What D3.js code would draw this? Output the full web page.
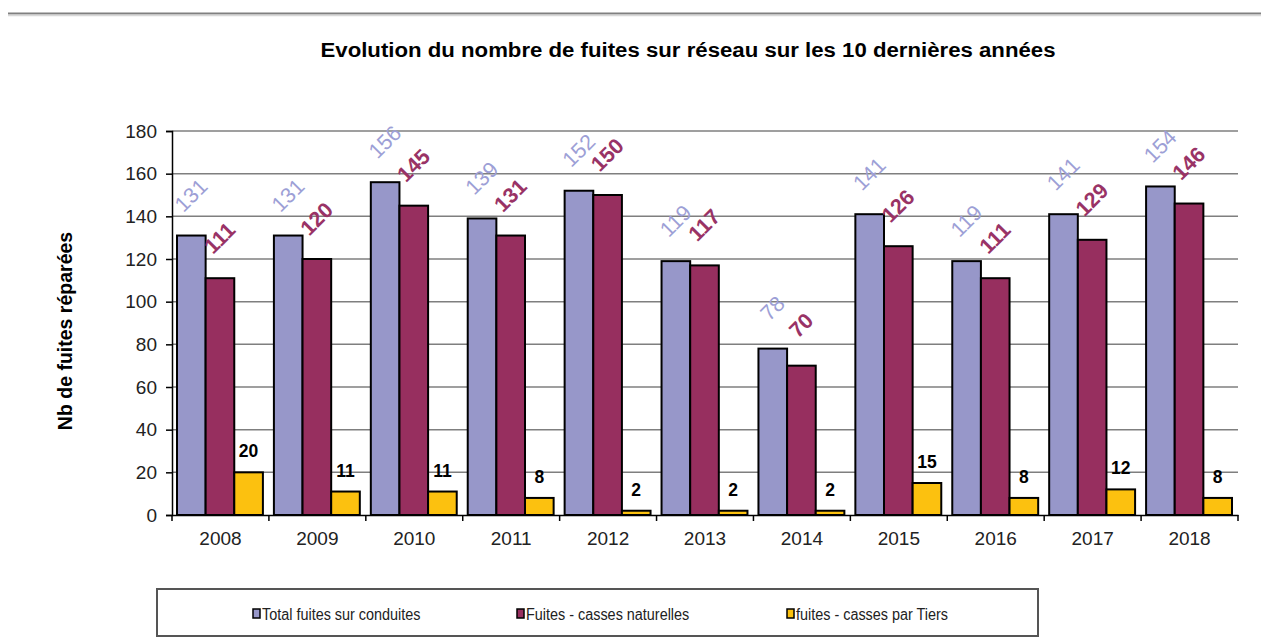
<!DOCTYPE html>
<html>
<head>
<meta charset="utf-8">
<script src="https://cdn.jsdelivr.net/npm/d3@7"></script>
<style>
  body { margin: 0; background: #fff; }
  svg { display: block; font-family: Arial, "Liberation Sans", sans-serif; }
</style>
</head>
<body>
<svg id="chart" width="1261" height="639"></svg>
<script>
const years = ['2008', '2009', '2010', '2011', '2012', '2013', '2014', '2015', '2016', '2017', '2018']
const totalFuites = [131, 131, 156, 139, 152, 119, 78, 141, 119, 141, 154]
const cassesNaturelles = [111, 120, 145, 131, 150, 117, 70, 126, 111, 129, 146]
const cassesTiers = [20, 11, 11, 8, 2, 2, 2, 15, 8, 12, 8]
const seriesNames = ['Total fuites sur conduites', 'Fuites - casses naturelles', 'fuites - casses par Tiers']
const yTicks = [0, 20, 40, 60, 80, 100, 120, 140, 160, 180]

const colors = ['#9797c9', '#972f5f', '#fcc10f']
const labelColors = ['#9d9fd6', '#993366', '#000']

const svg = d3.select('#chart')
const plotLeft = 172, plotRight = 1238, plotTop = 131, plotBottom = 515

// top separator line
svg.append('line').attr('x1', 8).attr('x2', 1261).attr('y1', 13.5).attr('y2', 13.5)
    .attr('stroke', '#808080').attr('stroke-width', 2)
svg.append('line').attr('x1', 8).attr('x2', 1261).attr('y1', 15.5).attr('y2', 15.5)
    .attr('stroke', '#d8d8d8').attr('stroke-width', 1.5)

svg.append('text')
    .attr('x', 688).attr('y', 57)
    .attr('text-anchor', 'middle')
    .attr('font-size', 20).attr('font-weight', 'bold')
    .attr('textLength', 735).attr('lengthAdjust', 'spacingAndGlyphs')
    .text('Evolution du nombre de fuites sur réseau sur les 10 dernières années')

const x = d3.scaleBand().domain(years).range([plotLeft, plotRight])
const xInner = d3.scaleBand().domain([0, 1, 2]).range([5, x.bandwidth() - 6])
const y = d3.scaleLinear().domain([0, 180]).range([plotBottom, plotTop])

// gridlines
svg.append('g').selectAll('line')
    .data(yTicks.filter(d => d > 0))
    .enter().append('line')
    .attr('x1', plotLeft).attr('x2', plotRight)
    .attr('y1', d => y(d)).attr('y2', d => y(d))
    .attr('stroke', '#7f7f7f').attr('stroke-width', 1.5)

// y axis
const yAxis = svg.append('g')
    .attr('transform', `translate(${plotLeft},0)`)
    .call(d3.axisLeft(y).tickValues(yTicks).tickSize(6).tickPadding(9))
yAxis.selectAll('text').attr('font-size', 19).attr('fill', '#222')
    .attr('font-family', 'Arial, "Liberation Sans", sans-serif')
yAxis.selectAll('line,path').attr('stroke', '#000').attr('stroke-width', 1.5)

svg.append('text')
    .attr('transform', 'translate(72,331) rotate(-90)')
    .attr('text-anchor', 'middle')
    .attr('font-size', 19.5).attr('font-weight', 'bold')
    .text('Nb de fuites réparées')

const table = years.map((yr, i) => ({ year: yr, values: [totalFuites[i], cassesNaturelles[i], cassesTiers[i]] }))

const groups = svg.append('g').selectAll('g')
    .data(table)
    .enter().append('g')
    .attr('transform', d => `translate(${x(d.year)},0)`)

groups.selectAll('rect')
    .data(d => d.values.map((v, k) => ({ v, k })))
    .enter().append('rect')
    .attr('x', d => xInner(d.k))
    .attr('width', xInner.bandwidth())
    .attr('y', d => y(d.v))
    .attr('height', d => plotBottom - y(d.v))
    .attr('fill', d => colors[d.k])
    .attr('stroke', '#000').attr('stroke-width', 2)

// rotated labels for the two first series
groups.selectAll('text.rot')
    .data(d => d.values.slice(0, 2).map((v, k) => ({ v, k })))
    .enter().append('text')
    .attr('class', 'rot')
    .attr('transform', d => `translate(${xInner(d.k) + xInner.bandwidth() / 2},${y(d.v) - 40}) rotate(-45)`)
    .attr('text-anchor', 'middle')
    .attr('dominant-baseline', 'central')
    .attr('font-size', 21.5)
    .attr('font-weight', d => d.k === 1 ? 'bold' : 'normal')
    .attr('fill', d => labelColors[d.k])
    .text(d => d.v)

groups.append('text')
    .attr('x', xInner(2) + xInner.bandwidth() / 2)
    .attr('y', d => y(d.values[2]) - 21)
    .attr('text-anchor', 'middle')
    .attr('dominant-baseline', 'central')
    .attr('font-size', 17.5).attr('font-weight', 'bold')
    .text(d => d.values[2])

// x axis
const xAxis = svg.append('g')
    .attr('transform', `translate(0,${plotBottom})`)
    .call(d3.axisBottom(x).tickSize(0).tickPadding(17))
xAxis.selectAll('text').attr('font-size', 19).attr('fill', '#222')
    .attr('font-family', 'Arial, "Liberation Sans", sans-serif')
xAxis.select('path').attr('stroke', '#000').attr('stroke-width', 1.5)
xAxis.append('g').selectAll('line')
    .data(years.map(yr => x(yr)).concat([plotRight]))
    .enter().append('line')
    .attr('x1', d => d).attr('x2', d => d)
    .attr('y1', 0).attr('y2', 6)
    .attr('stroke', '#000').attr('stroke-width', 1.5)

// legend
const legend = svg.append('g')
legend.append('rect')
    .attr('x', 157).attr('y', 589).attr('width', 881).attr('height', 47)
    .attr('fill', '#fff').attr('stroke', '#555').attr('stroke-width', 2)
const legendX = [253, 517, 787]
const items = legend.selectAll('g.item')
    .data(seriesNames)
    .enter().append('g')
    .attr('transform', (d, i) => `translate(${legendX[i]},614)`)
items.append('rect')
    .attr('x', 0).attr('y', -5).attr('width', 7).attr('height', 9)
    .attr('fill', (d, i) => colors[i]).attr('stroke', '#000').attr('stroke-width', 1.5)
items.append('text')
    .attr('x', 9).attr('y', 0)
    .attr('dominant-baseline', 'central')
    .attr('font-size', 16)
    .attr('fill', '#222')
    .text(d => d)
    .each(function () {
        // narrow the legend labels like the condensed font of the original
        const w = this.getComputedTextLength()
        d3.select(this).attr('textLength', w * 0.9).attr('lengthAdjust', 'spacingAndGlyphs')
    })
</script>
</body>
</html>
